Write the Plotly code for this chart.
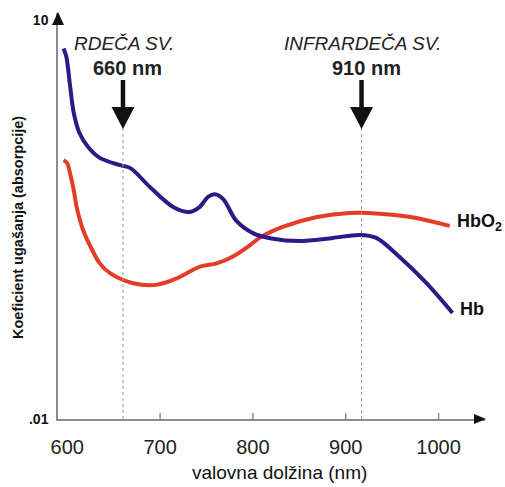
import numpy as np
import plotly.graph_objects as go

# ---- data ----
hb_nm = [596, 599, 603, 607, 613, 622, 635, 657, 668, 689, 714, 732, 742, 752, 759, 768,
         782, 800, 820, 850, 886, 915, 933, 958, 987, 1015]
hb_val = [6.1, 5.3, 3.2, 2.0, 1.42, 1.12, 0.92, 0.81, 0.77, 0.555, 0.393, 0.36, 0.39,
          0.47, 0.49, 0.45, 0.31, 0.25, 0.228, 0.218, 0.23, 0.242, 0.23, 0.165,
          0.105, 0.0627]

hbo2_nm = [596, 600, 603, 607, 610, 617, 625, 635, 646, 671, 696, 718, 743, 761, 778, 797,
           807, 832, 869, 904, 940, 976, 1012]
hbo2_val = [0.885, 0.838, 0.703, 0.527, 0.395, 0.264, 0.198, 0.148, 0.125, 0.105, 0.102, 0.114,
            0.14, 0.148, 0.166, 0.203, 0.23, 0.278, 0.33, 0.354, 0.348, 0.325, 0.283]

x_ticks = [600, 700, 800, 900, 1000]
x_tick_marks = [700, 800, 900, 1000]
y_ticks = [0.01, 10]
y_tick_labels = [".01", "10"]

marker_nm = [660, 917]
marker_titles = ["RDEČA SV.", "INFRARDEČA SV."]
marker_labels = ["660 nm", "910 nm"]

BLUE = "#2E1A87"
RED = "#E63B24"
AX = "#8C8C8C"
FONT = "Arial, Liberation Sans, sans-serif"

fig = go.Figure()
fig.add_trace(go.Scatter(x=hbo2_nm, y=hbo2_val, mode="lines",
                         line=dict(color=RED, width=4, shape="spline", smoothing=0.9),
                         showlegend=False, hoverinfo="skip"))
fig.add_trace(go.Scatter(x=hb_nm, y=hb_val, mode="lines",
                         line=dict(color=BLUE, width=4, shape="spline", smoothing=0.9),
                         showlegend=False, hoverinfo="skip"))

W, H = 505, 487
ML, MR, MT, MB = 58, 20, 13, 68
pw, ph = W - ML - MR, H - MT - MB
XR = [590, 1050]

shapes = []
annotations = []

def py(pix):  # pixel y -> paper
    return (H - MB - pix) / ph

def px(pix):  # pixel x -> paper
    return (pix - ML) / pw

nm_per_px = (XR[1] - XR[0]) / pw

# marker lines / arrows
for nm, t1, t2 in zip(marker_nm, marker_titles, marker_labels):
    shapes.append(dict(type="line", xref="x", yref="paper", x0=nm, x1=nm, y0=0, y1=py(128),
                       line=dict(color="#9a9a9a", width=1, dash="dot")))
    shapes.append(dict(type="line", xref="x", yref="paper", x0=nm, x1=nm, y0=py(80), y1=py(112),
                       line=dict(color="#111111", width=4.5)))
    hw = 11.5 * nm_per_px
    shapes.append(dict(type="path", xref="x", yref="paper",
                       path=f"M {nm-hw} {py(107)} L {nm+hw} {py(107)} L {nm} {py(129)} Z",
                       fillcolor="#111111", line=dict(width=0)))
    annotations.append(dict(xref="x", yref="paper", x=nm, y=py(44), text=f"<i>{t1}</i>",
                            showarrow=False, font=dict(size=19, color="#222222", family=FONT),
                            xanchor="center", yanchor="middle", xshift=1))
    annotations.append(dict(xref="x", yref="paper", x=nm, y=py(68), text=f"<b>{t2}</b>",
                            showarrow=False, font=dict(size=20, color="#222222", family=FONT),
                            xanchor="center", yanchor="middle", xshift=5))

# x tick marks (inside)
for t in x_tick_marks:
    shapes.append(dict(type="line", xref="x", yref="paper", x0=t, x1=t, y0=0, y1=6 / ph,
                       line=dict(color=AX, width=1.5)))

# axis arrowheads
shapes.append(dict(type="path", xref="paper", yref="paper",
                   path=f"M {px(52)} {py(25)} L {px(64)} {py(25)} L {px(58)} {py(12)} Z",
                   fillcolor="#111111", line=dict(width=0)))
shapes.append(dict(type="path", xref="paper", yref="paper",
                   path=f"M {px(474)} {py(414)} L {px(474)} {py(424)} L {px(486)} {py(419)} Z",
                   fillcolor="#111111", line=dict(width=0)))

# series labels
annotations.append(dict(xref="x", yref="y", x=hbo2_nm[-1], y=np.log10(hbo2_val[-1]),
                        text="<b>HbO<sub>2</sub></b>", showarrow=False, xanchor="left",
                        yanchor="middle", xshift=5, yshift=3,
                        font=dict(size=18, color="#111111", family=FONT)))
annotations.append(dict(xref="x", yref="y", x=hb_nm[-1], y=np.log10(hb_val[-1]),
                        text="<b>Hb</b>", showarrow=False, xanchor="left",
                        yanchor="middle", xshift=5, yshift=4,
                        font=dict(size=18, color="#111111", family=FONT)))

# axis titles
annotations.append(dict(xref="paper", yref="paper", x=px(279), y=py(472),
                        text="valovna dolžina (nm)", showarrow=False,
                        xanchor="center", yanchor="middle",
                        font=dict(size=19, color="#111111", family=FONT)))
annotations.append(dict(xref="paper", yref="paper", x=px(18), y=py(228),
                        text="<b>Koeficient ugašanja (absorpcije)</b>", showarrow=False,
                        textangle=-90, xanchor="center", yanchor="middle",
                        font=dict(size=14.5, color="#111111", family=FONT)))

fig.update_layout(
    width=W, height=H, autosize=False,
    margin=dict(l=ML, r=MR, t=MT, b=MB, pad=0),
    paper_bgcolor="white", plot_bgcolor="white",
    shapes=shapes, annotations=annotations,
    font=dict(family=FONT, color="#111111"),
    xaxis=dict(range=XR, tickvals=x_ticks, ticktext=[str(v) for v in x_ticks],
               showline=True, linecolor=AX, linewidth=1.5, showgrid=False, zeroline=False,
               ticks="", ticklabelstandoff=9, tickfont=dict(size=20, color="#222222")),
    yaxis=dict(type="log", range=[-2, 1.053], tickvals=y_ticks,
               ticktext=[f"<b>{t}</b>" for t in y_tick_labels],
               showline=True, linecolor=AX, linewidth=1.5, showgrid=False, zeroline=False,
               ticks="", ticklabelstandoff=5, tickfont=dict(size=14, color="#111111")),
)

fig.write_html("out.html")
